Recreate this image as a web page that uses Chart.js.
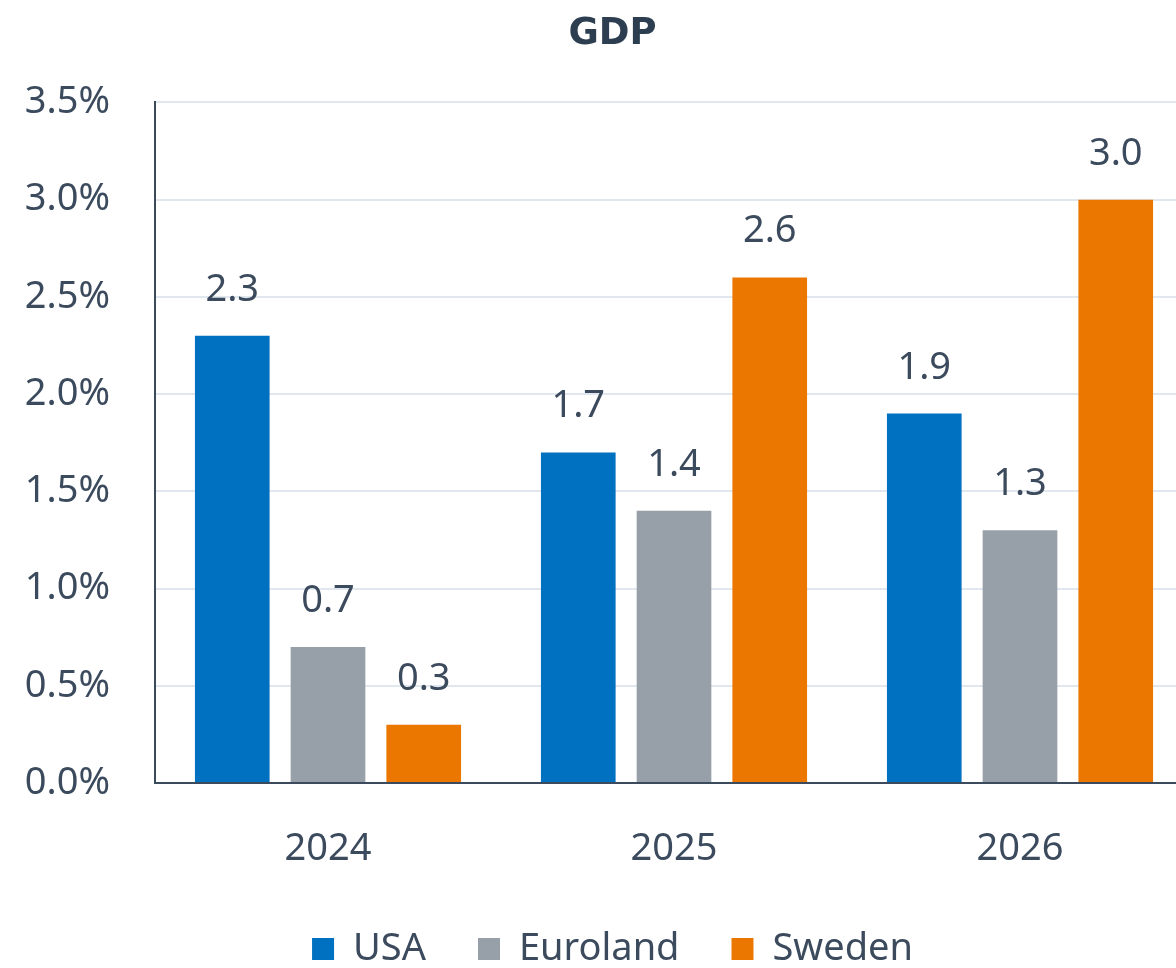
<!DOCTYPE html>
<html>
<head>
<meta charset="utf-8">
<script src="https://cdn.jsdelivr.net/npm/chart.js@4"></script>
<style>
  html, body { margin: 0; padding: 0; background: #fff; overflow: hidden; }
  #wrap { width: 1225px; height: 968px; }
</style>
</head>
<body>
<div id="wrap"><canvas id="chart"></canvas></div>
<script>
// data
const years = ['2024', '2025', '2026'];
const usa = [2.3, 1.7, 1.9];
const euroland = [0.7, 1.4, 1.3];
const sweden = [0.3, 2.6, 3.0];
const yTicks = [0, 0.5, 1, 1.5, 2, 2.5, 3, 3.5];

const textCol = '#3b4a5c';
const font = '"Noto Sans", sans-serif';

// value labels above bars (no datalabels plugin offline)
const barLabels = {
  id: 'barLabels',
  afterDatasetsDraw(chart) {
    const ctx = chart.ctx;
    ctx.save();
    ctx.font = '38px ' + font;
    ctx.fillStyle = textCol;
    ctx.textAlign = 'center';
    ctx.textBaseline = 'alphabetic';
    chart.data.datasets.forEach((ds, i) => {
      chart.getDatasetMeta(i).data.forEach((bar, j) => {
        ctx.fillText(ds.data[j].toFixed(1), bar.x, bar.y - 35);
      });
    });
    ctx.restore();
  }
};

new Chart(document.getElementById('chart'), {
  type: 'bar',
  data: {
    labels: years,
    datasets: [
      { label: 'USA', data: usa, backgroundColor: '#0070c0' },
      { label: 'Euroland', data: euroland, backgroundColor: '#97a0a8' },
      { label: 'Sweden', data: sweden, backgroundColor: '#ec7700' }
    ]
  },
  options: {
    responsive: true,
    maintainAspectRatio: false,
    animation: false,
    categoryPercentage: 0.83,
    barPercentage: 0.78,
    layout: { padding: { left: 0, right: 0, top: 0, bottom: -10 } },
    plugins: {
      title: {
        display: true, text: 'GDP', color: '#2c3e50',
        font: { family: '"DejaVu Sans", sans-serif', size: 37, weight: 'bold' },
        padding: { top: 12, bottom: 46 }
      },
      legend: {
        position: 'bottom',
        labels: {
          color: textCol, boxWidth: 22, boxHeight: 22, padding: 52,
          font: { family: font, size: 38 }
        }
      },
      tooltip: { enabled: false }
    },
    scales: {
      x: {
        grid: { display: false },
        border: { display: true, color: '#3b4a5c', width: 2 },
        ticks: { color: textCol, padding: 35, font: { family: font, size: 38 } },
        afterFit(axis) { axis.height = 95; }
      },
      y: {
        min: 0, max: 3.5,
        afterBuildTicks(axis) { axis.ticks = yTicks.map(v => ({ value: v })); },
        grid: { color: '#e1e7ee', lineWidth: 2, drawTicks: false },
        border: { display: true, color: '#3b4a5c', width: 2 },
        ticks: {
          color: textCol, padding: 45, font: { family: font, size: 38 },
          callback: v => v.toFixed(1) + '%'
        },
        afterFit(axis) { axis.width = 155; }
      },
      // empty right margin so title and legend stay centred on the full width
      yr: {
        position: 'right', min: 0, max: 3.5,
        grid: { display: false }, border: { display: false },
        ticks: { display: false },
        afterFit(axis) { axis.width = 32; }
      }
    }
  },
  plugins: [barLabels]
});
</script>
</body>
</html>
